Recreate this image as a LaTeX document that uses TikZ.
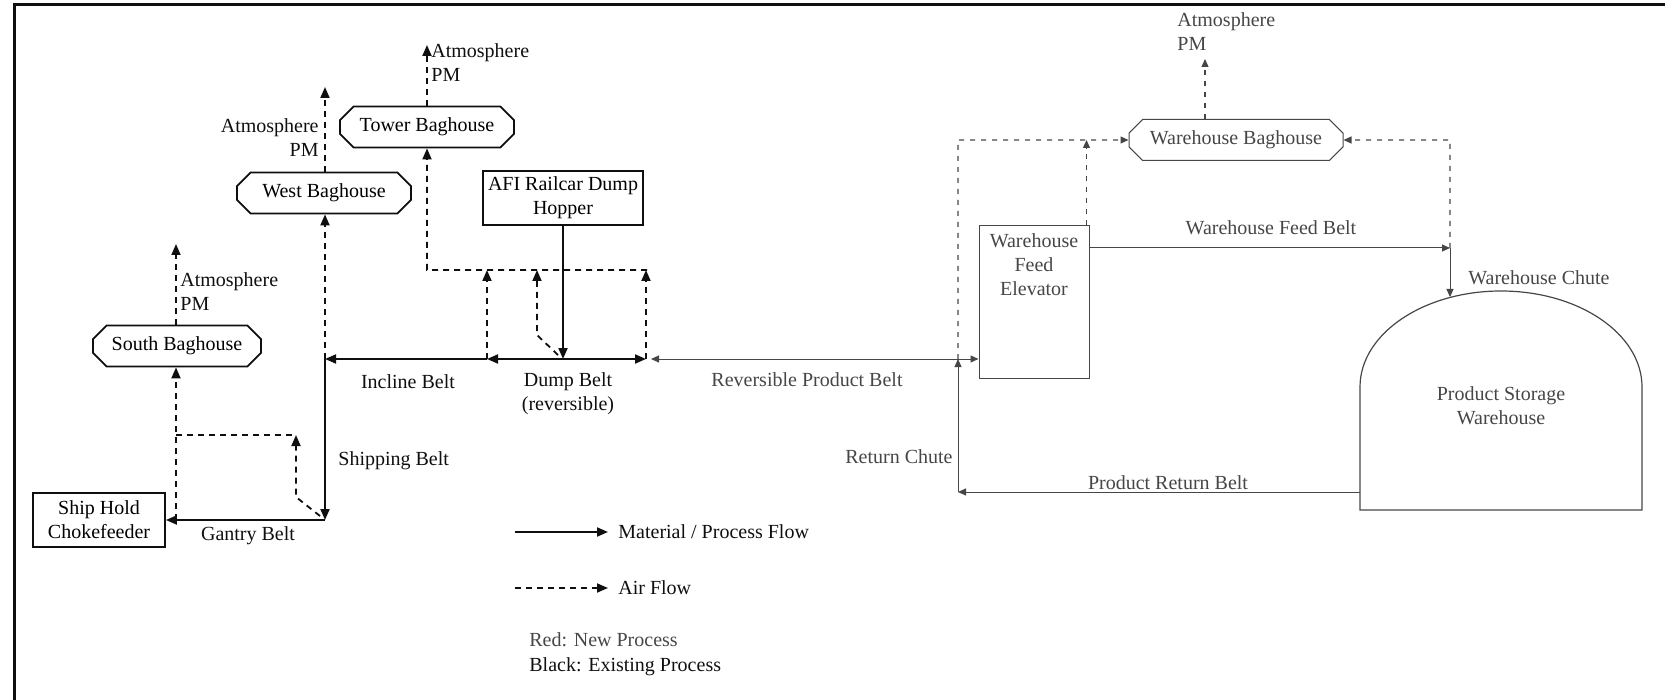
\documentclass[tikz,border=0pt]{standalone}
\usepackage{fontspec}
\setmainfont{Liberation Serif}
\usetikzlibrary{shapes.misc, arrows.meta, positioning, calc}
\usepackage{xcolor}
\definecolor{oldink}{RGB}{15, 15, 15}
\definecolor{newink}{RGB}{70, 70, 70}
\tikzset{
  bag/.style={
    chamfered rectangle, chamfered rectangle xsep=4pt, chamfered rectangle ysep=2.8pt,
    draw=oldink, line width=0.9pt, align=center,
    font=\normalsize, inner sep=2pt, minimum height=20.5pt
  },
  nbag/.style={bag, draw=newink, line width=0.5pt, text=newink},
  ebox/.style={
    rectangle, draw=oldink, line width=0.9pt, align=center,
    font=\normalsize, inner sep=1.5pt
  },
  nbox/.style={ebox, draw=newink, line width=0.5pt, text=newink},
  lbl/.style={font=\normalsize, text=oldink, inner sep=1pt, align=center},
  nlbl/.style={lbl, text=newink},
  arr/.style={-{Triangle[length=5.5pt, width=4.5pt]}, line width=1pt, color=oldink},
  darr/.style={-{Triangle[length=5.5pt, width=4.5pt]}, dash pattern=on 3pt off 2.5pt, line width=0.9pt, color=oldink},
  duct/.style={dash pattern=on 3pt off 2.5pt, line width=0.9pt, color=oldink},
  narr/.style={-{Triangle[length=4pt, width=3.5pt]}, line width=0.5pt, color=newink},
  nbarr/.style={{Triangle[length=4pt, width=3.5pt]}-{Triangle[length=4pt, width=3.5pt]}, line width=0.5pt, color=newink},
  ndarr/.style={-{Triangle[length=4pt, width=3.5pt]}, dash pattern=on 2.5pt off 3pt, line width=0.6pt, color=newink},
}

\begin{document}
\begin{tikzpicture}[x=0.5pt, y=-0.5pt]
    \useasboundingbox (0,0) rectangle (1665,700);
    \draw[line width=1.5pt, oldink] (1665,5) -- (14,5) -- (14,700);

    \node[bag, minimum width=84pt] (south) at (177,346) {South Baghouse};
    \node[bag, minimum width=87pt] (west)  at (324,193) {West Baghouse};
    \node[bag, minimum width=87pt] (tower) at (427,127) {Tower Baghouse};
    \node[ebox, minimum width=80pt, minimum height=27pt] (hopper) at (563,198) {AFI Railcar Dump\\Hopper};
    \node[ebox, minimum width=66pt, minimum height=27pt] (ship)   at (99,520)  {Ship Hold\\Chokefeeder};

    \node[nbag, minimum width=107pt] (whbag) at (1236,140) {Warehouse Baghouse};
    \node[nbox, minimum width=55pt, minimum height=76pt] (elev) at (1034,302) {};
    \node[nlbl, below=3pt of elev.north] (elevtxt) {Warehouse\\Feed\\Elevator};

    \draw[newink, line width=0.6pt] (1360,510) -- (1360,387)
      arc[start angle=180, end angle=0, x radius=70.5pt, y radius=48pt] -- (1642,510) -- cycle;
    \node[nlbl] (store) at (1501,406) {Product Storage\\Warehouse};

    \coordinate (incL)  at (325,359);
    \coordinate (ganR)  at (325,520);
    \coordinate (dumpL) at (487,359);
    \coordinate (drop)  at (563,359);
    \coordinate (dumpR) at (646,359);
    \coordinate (revL)  at (651,359);
    \coordinate (retT)  at (958,359);
    \coordinate (retB)  at (958,492);
    \coordinate (domeL) at (1360,492);
    \coordinate (feedR) at (1450,248);
    \coordinate (domeT) at (1450,297);

    \draw[arr] (hopper) -- (drop);
    \draw[arr] (drop) -- (dumpL);
    \draw[arr] (drop) -- (dumpR);
    \draw[arr] (dumpL) -- (incL);
    \draw[arr] (incL) -- (ganR);
    \draw[arr] (ganR) -- (ship);

    \draw[nbarr] (revL) -- (revL -| elev.west);
    \draw[narr] (retB) -- (retT);
    \draw[narr] (domeL) -- (retB);
    \draw[narr] (elev.east |- feedR) -- (feedR);
    \draw[narr] (feedR) -- (domeT);

    \coordinate (atmS) at (176,244);
    \coordinate (airS) at (176,520);
    \coordinate (airJ) at (176,435);
    \coordinate (airK) at (296,435);
    \coordinate (airKb) at (296,497);
    \draw[darr] (south.north -| atmS) -- (atmS);
    \node[lbl, align=left, anchor=west] (atmStxt) at (178,292) {Atmosphere\\PM};
    \draw[darr] (airS) -- (airS |- south.south);
    \draw[duct] (airJ) -- (airK);
    \draw[darr] ($(ganR)+(-5,-4)$) -- (airKb) -- (airK);

    \coordinate (atmW) at (325,87);
    \draw[darr] (incL) -- (incL |- west.south);
    \draw[darr] (west.north -| atmW) -- (atmW);
    \node[lbl, align=right, anchor=east] (atmWtxt) at (321,138) {Atmosphere\\PM};

    \coordinate (atmT)  at (427,45);
    \coordinate (ductW) at (427,270);
    \coordinate (ductE) at (647,270);
    \coordinate (dropK) at (537,335);
    \draw[darr] (tower) -- (atmT);
    \node[lbl, align=left, anchor=west] (atmTtxt) at (429,63) {Atmosphere\\PM};
    \draw[darr] (ductE) -- (ductW) -- (tower);
    \foreach \c in {dumpL, dumpR}
      \draw[darr] (\c) -- (\c |- ductW);
    \draw[darr] ($(drop)+(-5,-4)$) -- (dropK) -- (dropK |- ductW);

    \coordinate (atmH) at (1205,59);
    \coordinate (elevA) at ($(elev.north east)+(-3,0)$);
    \draw[ndarr] (whbag.north -| atmH) -- (atmH);
    \node[nlbl, align=left, anchor=west] (atmHtxt) at (1175,32) {Atmosphere\\PM};
    \draw[ndarr] (retT) -- (retT |- whbag) -- (whbag);
    \draw[ndarr] (elevA) -- (elevA |- whbag.west);
    \draw[ndarr] (feedR) -- (feedR |- whbag) -- (whbag);

    \node[lbl] (gantry) at (248,536) {Gantry Belt};
    \node[lbl, anchor=west] (shipping) at (336,461) {Shipping Belt};
    \node[lbl] (incline) at (408,382) {Incline Belt};
    \node[lbl] (dump) at (568,394) {Dump Belt\\(reversible)};
    \node[nlbl] (revbelt) at (807,380) {Reversible Product Belt};
    \node[nlbl, anchor=east] (retchute) at (955,457) {Return Chute};
    \node[nlbl] (retbelt) at (1168,483) {Product Return Belt};
    \node[nlbl] (feedbelt) at (1271,228) {Warehouse Feed Belt};
    \node[nlbl, anchor=west] (chute) at (1466,278) {Warehouse Chute};

    \coordinate (legA) at (515,532);
    \coordinate (legB) at (608,532);
    \coordinate (legC) at (515,588);
    \coordinate (legD) at (608,588);
    \draw[arr] (legA) -- (legB);
    \node[lbl, right=4pt of legB] (legM) {Material / Process Flow};
    \draw[darr] (legC) -- (legD);
    \node[lbl, right=4pt of legD] (legF) {Air Flow};
    \node[nlbl, anchor=west] (legR) at (527,640) {Red: New Process};
    \node[lbl, anchor=west] (legK) at (527,667) {Black: Existing Process};
  \end{tikzpicture}
\end{document}
